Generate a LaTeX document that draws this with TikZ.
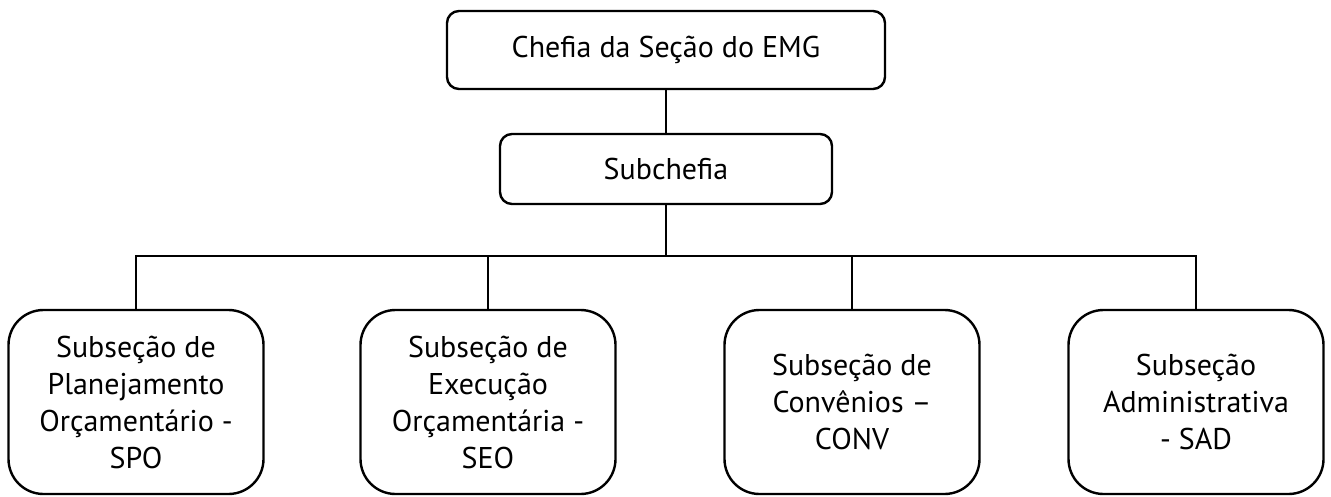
\documentclass[tikz,border=0pt]{standalone}
\usepackage{fontspec}
\setmainfont{PT Sans}
\usepackage{tikz}
\usetikzlibrary{positioning}
\tikzset{
x=1pt, y=-1pt, % one unit is one pixel of the page, y runs downwards
caixa/.style={draw, line width=2.4pt, rounded corners=12pt, align=center, font=\fontsize{30}{37}\selectfont}, % upper boxes
secao/.style={caixa, rounded corners=35pt, minimum width=255pt, minimum height=184pt, inner sep=0pt}, % lower boxes
}

\begin{document}
\begin{tikzpicture}[line width=2.4pt]
		\useasboundingbox (0,0) rectangle (1331,496);
		\node[caixa, minimum width=438pt, minimum height=78pt] (chefia) at (666,50) {Chefia da Seção do EMG};
		\node[caixa, minimum width=332pt, minimum height=70pt] (sub) at (666,169) {Subchefia};
		\node[secao] (spo) at (136,402) {Subseção de\\Planejamento\\Orçamentário -\\SPO};
		\node[secao] (seo) at (488,402) {Subseção de\\Execução\\Orçamentária -\\SEO};
		\node[secao] (conv) at (852,402) {Subseção de\\Convênios –\\CONV};
		\node[secao] (sad) at (1196,402) {Subseção\\Administrativa\\- SAD};
		\coordinate (barra) at (666,256);
		\draw (chefia) -- (sub)
			(sub) -- (barra)
			(barra) -| (spo)
			(barra) -| (seo)
			(barra) -| (conv)
			(barra) -| (sad);
	\end{tikzpicture}
\end{document}
